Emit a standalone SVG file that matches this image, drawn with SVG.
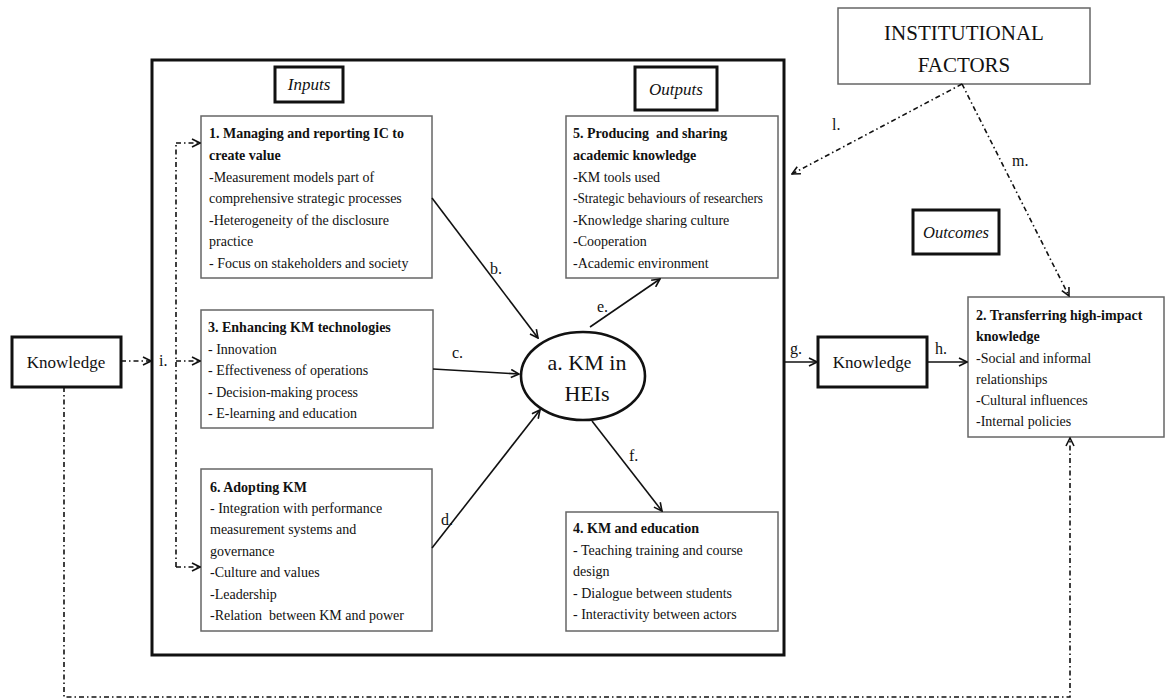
<svg xmlns="http://www.w3.org/2000/svg" width="1167" height="700" viewBox="0 0 1167 700">
<defs>
<style>
.bg{fill:#fff}
.heavy{fill:#fff;stroke:#111;stroke-width:3}
.box{fill:#fff;stroke:#666;stroke-width:1.5}
.t{font-family:"Liberation Serif","Times New Roman",serif;font-size:14px;fill:#111}
.b{font-weight:bold}
.big{font-size:21px}
.ell{font-size:22px}
.it{font-family:"Liberation Serif","Times New Roman",serif;font-style:italic;font-size:17px;fill:#111}
.lbl{font-family:"Liberation Serif","Times New Roman",serif;font-size:16px;fill:#111}
.kn{font-family:"Liberation Serif","Times New Roman",serif;font-size:17px;fill:#111}
.solid{fill:none;stroke:#111;stroke-width:1.6}
.dd{fill:none;stroke:#111;stroke-width:1.6;stroke-dasharray:5 3 1.5 3}
</style>
<marker id="arr" viewBox="0 0 10 10" refX="9" refY="5" markerWidth="10" markerHeight="10" markerUnits="userSpaceOnUse" orient="auto">
<path d="M1,1 L9,5 L1,9" fill="none" stroke="#111" stroke-width="1.6"/>
</marker>
</defs>
<rect class="bg" x="0" y="0" width="1167" height="700"/>

<g id="frame">
<rect x="152" y="60" width="632" height="595" fill="none" stroke="#111" stroke-width="3"/>
</g>

<g id="inputs-label">
<rect class="heavy" x="275" y="67" width="68" height="35"/>
<text class="it" x="309" y="90" text-anchor="middle">Inputs</text>
</g>
<g id="outputs-label">
<rect class="heavy" x="635" y="67" width="82" height="43"/>
<text class="it" x="676" y="95" text-anchor="middle">Outputs</text>
</g>
<g id="outcomes-label">
<rect class="heavy" x="913" y="210" width="86" height="44"/>
<text class="it" x="956" y="238" text-anchor="middle" style="font-size:16.5px">Outcomes</text>
</g>

<g id="institutional">
<rect class="box" x="838" y="8" width="252" height="76"/>
<text class="t big" x="964" y="40" text-anchor="middle">INSTITUTIONAL</text>
<text class="t big" x="964" y="72" text-anchor="middle">FACTORS</text>
</g>

<g id="knowledge-in">
<rect class="heavy" x="12" y="337" width="109" height="50"/>
<text class="kn" x="66" y="368" text-anchor="middle">Knowledge</text>
</g>
<g id="knowledge-out">
<rect class="heavy" x="818" y="337" width="109" height="50"/>
<text class="kn" x="872" y="368" text-anchor="middle">Knowledge</text>
</g>

<g id="box1">
<rect class="box" x="201" y="116" width="231" height="162"/>
<text class="t b" x="209" y="138">1. Managing and reporting IC to</text>
<text class="t b" x="209" y="160">create value</text>
<text class="t" x="209" y="181.5">-Measurement models part of</text>
<text class="t" x="209" y="203">comprehensive strategic processes</text>
<text class="t" x="209" y="224.5">-Heterogeneity of the disclosure</text>
<text class="t" x="209" y="246">practice</text>
<text class="t" x="209" y="267.5">- Focus on stakeholders and society</text>
</g>

<g id="box3">
<rect class="box" x="201" y="310" width="232" height="118"/>
<text class="t b" x="208" y="332">3. Enhancing KM technologies</text>
<text class="t" x="208" y="353.5">- Innovation</text>
<text class="t" x="208" y="375">- Effectiveness of operations</text>
<text class="t" x="208" y="396.5">- Decision-making process</text>
<text class="t" x="208" y="418">- E-learning and education</text>
</g>

<g id="box6">
<rect class="box" x="201" y="469" width="231" height="162"/>
<text class="t b" x="210" y="492">6. Adopting KM</text>
<text class="t" x="210" y="513">- Integration with performance</text>
<text class="t" x="210" y="534">measurement systems and</text>
<text class="t" x="210" y="555.5">governance</text>
<text class="t" x="210" y="577">-Culture and values</text>
<text class="t" x="210" y="598.5">-Leadership</text>
<text class="t" x="210" y="620" xml:space="preserve">-Relation  between KM and power</text>
</g>

<g id="box5">
<rect class="box" x="566" y="116" width="212" height="162"/>
<text class="t b" x="573" y="138" xml:space="preserve">5. Producing  and sharing</text>
<text class="t b" x="573" y="160">academic knowledge</text>
<text class="t" x="573" y="181.5">-KM tools used</text>
<text class="t" x="573" y="203" textLength="190" lengthAdjust="spacingAndGlyphs">-Strategic behaviours of researchers</text>
<text class="t" x="573" y="224.5">-Knowledge sharing culture</text>
<text class="t" x="573" y="246">-Cooperation</text>
<text class="t" x="573" y="267.5">-Academic environment</text>
</g>

<g id="box4">
<rect class="box" x="566" y="512" width="212" height="119"/>
<text class="t b" x="573" y="533">4. KM and education</text>
<text class="t" x="573" y="554.5">- Teaching training and course</text>
<text class="t" x="573" y="576">design</text>
<text class="t" x="573" y="597.5">- Dialogue between students</text>
<text class="t" x="573" y="619">- Interactivity between actors</text>
</g>

<g id="box2">
<rect class="box" x="968" y="297" width="196" height="140"/>
<text class="t b" x="976" y="320">2. Transferring high-impact</text>
<text class="t b" x="976" y="341">knowledge</text>
<text class="t" x="976" y="362.5">-Social and informal</text>
<text class="t" x="976" y="384">relationships</text>
<text class="t" x="976" y="405">-Cultural influences</text>
<text class="t" x="976" y="426">-Internal policies</text>
</g>

<g id="center">
<ellipse cx="583" cy="376" rx="62" ry="44" fill="#fff" stroke="#111" stroke-width="2.6"/>
<text class="t ell" x="587" y="370" text-anchor="middle">a. KM in</text>
<text class="t ell" x="587" y="401" text-anchor="middle">HEIs</text>
</g>

<g id="connectors">
<path class="solid" d="M432,198 L538,338" marker-end="url(#arr)"/>
<path class="solid" d="M433,369 L519,374" marker-end="url(#arr)"/>
<path class="solid" d="M432,548 L540,410" marker-end="url(#arr)"/>
<path class="solid" d="M590,327 L660,279" marker-end="url(#arr)"/>
<path class="solid" d="M592,421 L662,511" marker-end="url(#arr)"/>
<path class="solid" d="M784,362 L817,362" marker-end="url(#arr)"/>
<path class="solid" d="M927,362 L967,362" marker-end="url(#arr)"/>
<path class="dd" d="M121,361 L151,361" marker-end="url(#arr)"/>
<path class="dd" d="M176,567 L176,143"/>
<path class="dd" d="M176,143 L200,143" marker-end="url(#arr)"/>
<path class="dd" d="M176,361 L200,361" marker-end="url(#arr)"/>
<path class="dd" d="M176,567 L200,567" marker-end="url(#arr)"/>
<path class="dd" d="M962,84 L792,174" marker-end="url(#arr)"/>
<path class="dd" d="M962,84 L1069,296" marker-end="url(#arr)"/>
<path class="dd" d="M64,387 L64,697 L1070,697 L1070,438" marker-end="url(#arr)"/>
<text class="lbl" x="490" y="274">b.</text>
<text class="lbl" x="452" y="358">c.</text>
<text class="lbl" x="441" y="525">d.</text>
<text class="lbl" x="597" y="312">e.</text>
<text class="lbl" x="629" y="461">f.</text>
<text class="lbl" x="790" y="354">g.</text>
<text class="lbl" x="935" y="354">h.</text>
<text class="lbl" x="159" y="366">i.</text>
<text class="lbl" x="832" y="130">l.</text>
<text class="lbl" x="1012" y="166">m.</text>
</g>
</svg>
